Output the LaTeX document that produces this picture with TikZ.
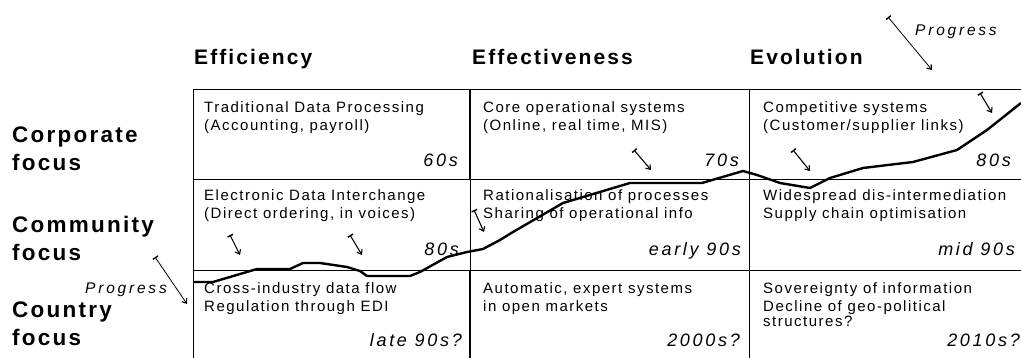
\documentclass[tikz,border=0pt]{standalone}
\usepackage{fontspec}
\setmainfont{Liberation Sans}[LetterSpace=10]
\usetikzlibrary{backgrounds,arrows.meta}

\begin{document}
\begin{tikzpicture}[x=1pt, y=-1pt, background rectangle/.style={fill=white}, show background rectangle, inner frame sep=0pt]

  \useasboundingbox (0,0) rectangle (1021,358);

  \tikzstyle{grid}=[line width=0.9pt]
  \tikzstyle{heading}=[font=\fontsize{21}{27}\selectfont\bfseries, anchor=base west, inner sep=0pt]
  \tikzstyle{focus}=[font=\fontsize{22.5}{28}\selectfont\bfseries, align=left, anchor=west, inner sep=0pt]
  \tikzstyle{cell}=[font=\fontsize{15}{18.5}\selectfont, align=left, anchor=north west, inner sep=0pt]
  \tikzstyle{era}=[font=\fontsize{18}{20}\selectfont\itshape\addfontfeature{LetterSpace=15}, anchor=base east, inner sep=0pt]
  \tikzstyle{curve}=[line width=2.4pt, line join=round]
  \tikzstyle{hint}=[line width=1.1pt, {Tee Barb[width=6pt,length=1.5pt,line width=1.3pt]}-{Straight Barb[length=4pt,width=6pt,line width=1.1pt]}]
  \tikzstyle{note}=[font=\fontsize{15.5}{18}\selectfont\itshape\addfontfeature{LetterSpace=18}, inner sep=0pt]

  \edef\gridtop{89}
  \edef\gridend{360}

  % grid lines
  \foreach \y in {89,179,270}
    {
      \draw[grid] (193,\y) -- (1021,\y);
    }
  \foreach \x in {193,470,749}
    {
      \draw[grid] (\x,\gridtop) -- (\x,\gridend);
    }
  \draw[line width=2pt] (470,89) -- (470,179);
  \draw[line width=2pt] (470,270) -- (470,\gridend);

  % headings above
  \node[heading] (efficiency) at (194,64.5) {Efficiency};
  \node[heading] (effectiveness) at (472,64.5) {Effectiveness};
  \node[heading] (evolution) at (750,64.5) {Evolution};

  % labels left
  \node[focus] (corporate) at (12,148.5) {Corporate\\focus};
  \node[focus] (community) at (12,238) {Community\\focus};
  \node[focus] (country) at (12,324) {Country\\focus};

  % cell texts
  \node[cell] (tdp) at (204,101) {Traditional Data Processing\\(Accounting, payroll)};
  \node[cell] (core) at (483,101) {Core operational systems\\(Online, real time, MIS)};
  \node[cell] (comp) at (763,101) {Competitive systems\\(Customer/supplier links)};
  \node[cell] (edi) at (204,189) {Electronic Data Interchange\\(Direct ordering, in voices)};
  \node[cell] (ratio) at (483,189) {Rationalisation of processes\\Sharing of operational info};
  \node[cell] (wide) at (763,189) {Widespread dis-intermediation\\Supply chain optimisation};
  \node[cell] (cross) at (204,282) {Cross-industry data flow\\Regulation through EDI};
  \node[cell] (auto) at (483,282) {Automatic, expert systems\\in open markets};
  \node[cell] (sover) at (763,282) {Sovereignty of information\\Decline of geo-political\\[-3.5pt]structures?};

  % eras
  \node[era] (e60) at (458,166.5) {60s};
  \node[era] (e70) at (739,166.5) {70s};
  \node[era] (e80a) at (1011,166.5) {80s};
  \node[era] (e80b) at (459,255.5) {80s};
  \node[era] (e90a) at (741,255.5) {early 90s};
  \node[era] (e90b) at (1015,255.5) {mid 90s};
  \node[era] (e90c) at (462,347) {late 90s?};
  \node[era] (e2000) at (740,347) {2000s?};
  \node[era] (e2010) at (1020,347) {2010s?};

  % progress curve
  \draw[curve] plot coordinates {(194,282) (213,282) (257,269) (290,269) (303,263) (320,263)
    (347,267) (360,271) (367,276) (410,276) (420,272) (447,257) (467,252) (483,249)
    (500,240) (513,232) (563,203) (630,183) (702,183) (743,171) (757,175) (780,183)
    (810,188) (830,178) (863,168) (913,162) (957,150) (987,130) (1021,103)};

  % small arrows
  \foreach \n/\xa/\ya/\xb/\yb in {1/230/235/240/255, 2/350/235/362/255, 3/474/210/484/232,
    4/634/150/651/170, 5/793/150/810/171, 6/980/93/992/113}
    {
      \coordinate (hint\n a) at (\xa,\ya);
      \coordinate (hint\n b) at (\xb,\yb);
      \draw[hint] (hint\n a) -- (hint\n b);
    }

  % progress arrows
  \coordinate (topa) at (888,17);
  \coordinate (topb) at (932,70);
  \draw[hint, line width=0.8pt] (topa) -- (topb);
  \node[note, anchor=west] (progtop) at (915,32) {Progress};

  \coordinate (lefta) at (155,257);
  \coordinate (leftb) at (187,304);
  \draw[hint, line width=0.8pt] (lefta) -- (leftb);
  \node[note, anchor=east] (progleft) at (167,290) {Progress};
\end{tikzpicture}
\end{document}
